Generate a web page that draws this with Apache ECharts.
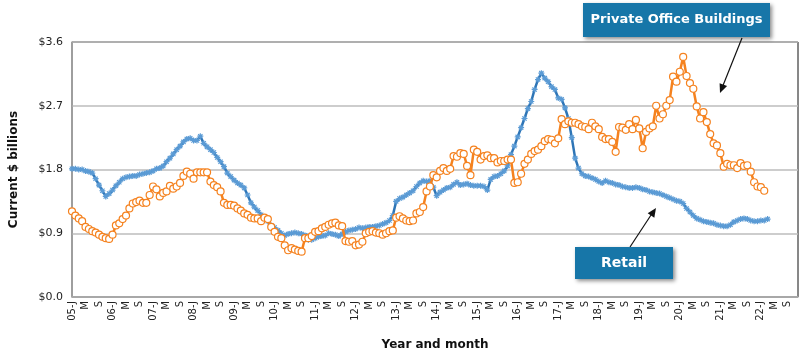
<!DOCTYPE html>
<html><head><meta charset="utf-8">
<script src="https://cdn.jsdelivr.net/npm/echarts@6/dist/echarts.min.js"></script>
<style>html,body{margin:0;padding:0;background:#fff}#c{width:800px;height:356px}</style>
</head><body><div id="c"></div>
<script>
// Month categories Jan 2005 .. Dec 2022
var monthLetters = ['J','F','M','A','M','J','J','A','S','O','N','D'];
var startYear = 2005, endYear = 2022;
var categories = [];
for (var y = startYear; y <= endYear; y++) {
  for (var m = 0; m < 12; m++) {
    categories.push(m === 0 ? String(y).slice(2) + '-J' : monthLetters[m]);
  }
}
var yTicks = [0, 0.9, 1.8, 2.7, 3.6];

// Private Office Buildings ($ billions), monthly from Jan 2005
var officeValues = [
 1.21,1.15,1.11,1.07,0.99,0.96,0.93,0.91,0.88,0.85,0.83,0.82,
 0.88,1.01,1.04,1.10,1.15,1.25,1.32,1.34,1.36,1.33,1.33,1.44,
 1.56,1.52,1.42,1.47,1.49,1.57,1.53,1.56,1.61,1.71,1.77,1.74,
 1.67,1.76,1.76,1.76,1.76,1.63,1.58,1.55,1.49,1.33,1.30,1.30,
 1.29,1.25,1.22,1.18,1.16,1.12,1.11,1.11,1.07,1.12,1.10,0.99,
 0.92,0.85,0.83,0.73,0.66,0.69,0.67,0.65,0.64,0.83,0.83,0.86,
 0.92,0.93,0.97,0.99,1.02,1.04,1.05,1.01,1.00,0.79,0.78,0.79,
 0.73,0.74,0.78,0.90,0.92,0.93,0.91,0.90,0.88,0.90,0.93,0.94,
 1.12,1.14,1.11,1.08,1.07,1.08,1.18,1.20,1.27,1.49,1.56,1.72,
 1.69,1.78,1.82,1.78,1.81,1.99,1.98,2.03,2.02,1.85,1.72,2.08,
 2.05,1.94,1.99,2.00,1.96,1.96,1.90,1.92,1.92,1.94,1.94,1.61,
 1.62,1.74,1.88,1.94,2.02,2.06,2.08,2.13,2.20,2.23,2.22,2.17,
 2.24,2.51,2.44,2.48,2.46,2.46,2.44,2.41,2.40,2.37,2.46,2.41,
 2.37,2.26,2.23,2.23,2.19,2.05,2.40,2.39,2.36,2.44,2.37,2.50,
 2.38,2.10,2.33,2.38,2.41,2.70,2.52,2.58,2.70,2.78,3.11,3.04,
 3.18,3.39,3.12,3.02,2.94,2.69,2.52,2.61,2.47,2.30,2.17,2.14,
 2.03,1.84,1.88,1.86,1.86,1.82,1.89,1.85,1.86,1.77,1.62,1.56,
 1.55,1.50
];

// Retail ($ billions), monthly from Jan 2005
var retailValues = [
 1.81,1.81,1.80,1.80,1.78,1.77,1.75,1.67,1.58,1.50,1.42,1.46,
 1.51,1.57,1.62,1.67,1.69,1.70,1.71,1.71,1.73,1.74,1.75,1.76,
 1.78,1.81,1.82,1.85,1.91,1.96,2.02,2.08,2.13,2.19,2.23,2.24,
 2.21,2.21,2.27,2.17,2.12,2.08,2.04,1.97,1.91,1.84,1.75,1.70,
 1.65,1.61,1.58,1.54,1.44,1.33,1.27,1.22,1.16,1.12,1.07,1.01,
 0.98,0.94,0.90,0.87,0.89,0.90,0.91,0.90,0.89,0.87,0.81,0.81,
 0.83,0.85,0.86,0.87,0.90,0.89,0.88,0.86,0.89,0.92,0.94,0.95,
 0.96,0.98,0.97,0.98,0.99,0.99,1.00,1.01,1.03,1.05,1.08,1.15,
 1.35,1.39,1.41,1.44,1.47,1.50,1.56,1.61,1.64,1.63,1.64,1.55,
 1.43,1.48,1.51,1.54,1.55,1.59,1.62,1.58,1.59,1.60,1.58,1.57,
 1.57,1.57,1.56,1.51,1.66,1.70,1.71,1.74,1.78,1.85,2.01,2.13,
 2.26,2.39,2.52,2.66,2.76,2.93,3.07,3.16,3.09,3.04,2.97,2.93,
 2.81,2.79,2.67,2.52,2.25,1.96,1.82,1.74,1.71,1.70,1.68,1.66,
 1.63,1.61,1.64,1.62,1.61,1.59,1.58,1.56,1.55,1.54,1.54,1.55,
 1.54,1.52,1.51,1.49,1.48,1.47,1.46,1.44,1.42,1.40,1.38,1.36,
 1.35,1.32,1.25,1.20,1.15,1.11,1.09,1.07,1.06,1.05,1.04,1.02,
 1.01,1.00,1.00,1.02,1.06,1.08,1.10,1.11,1.10,1.08,1.07,1.07,
 1.08,1.08,1.10
];

var FONT = '"DejaVu Sans", sans-serif';
var starPath = 'path://M4,0h2v10h-2z M0,4h10v2h-10z M0.7,2.1l1.4,-1.4l7.2,7.2l-1.4,1.4z M7.9,0.7l1.4,1.4l-7.2,7.2l-1.4,-1.4z';
var boxColor = '#1776a8';

var chart = echarts.init(document.getElementById('c'), null, {renderer: 'canvas'});
chart.setOption({
  animation: false,
  backgroundColor: '#fff',
  grid: {left: 68, right: 2, top: 42, bottom: 57, show: true, borderColor: '#111', borderWidth: 1},
  xAxis: {
    type: 'category', data: categories, boundaryGap: false,
    name: 'Year and month', nameLocation: 'middle', nameGap: 42,
    nameTextStyle: {fontFamily: FONT, fontWeight: 'bold', fontSize: 12, color: '#111'},
    axisLine: {lineStyle: {color: '#a6a6a6', width: 1.5}},
    axisTick: {show: false},
    axisLabel: {interval: 3, rotate: 90, fontFamily: FONT, fontSize: 10, color: '#222', margin: 4},
    splitLine: {show: false}
  },
  yAxis: {
    type: 'value', min: 0, max: 3.6, interval: 0.9,
    name: 'Current $ billions', nameLocation: 'middle', nameGap: 52, nameRotate: 90,
    nameTextStyle: {fontFamily: FONT, fontWeight: 'bold', fontSize: 12, color: '#111'},
    axisLine: {show: true, lineStyle: {color: '#a6a6a6', width: 1.5}},
    axisTick: {show: false},
    axisLabel: {fontFamily: FONT, fontSize: 11, color: '#222', margin: 9,
      formatter: function (v) { return '$' + v.toFixed(1); }},
    splitLine: {lineStyle: {color: '#bdbdbd', width: 1.5}}
  },
  series: [
    {
      name: 'Retail', type: 'line', data: retailValues, z: 2,
      showAllSymbol: true, symbol: starPath, symbolSize: 6,
      itemStyle: {color: '#5b9bd5'},
      lineStyle: {color: '#2e75b6', width: 2.5}
    },
    {
      name: 'Private Office Buildings', type: 'line', data: officeValues, z: 3,
      showAllSymbol: true, symbol: 'circle', symbolSize: 7,
      itemStyle: {color: '#fff', borderColor: '#f5821f', borderWidth: 1.2},
      lineStyle: {color: '#f5821f', width: 2.5}
    }
  ],
  graphic: [
    {type: 'line', shape: {x1: 742, y1: 38, x2: 722, y2: 88}, style: {stroke: '#111', lineWidth: 1.2}, z: 10},
    {type: 'polygon', shape: {points: [[720, 93], [727.1, 86.1], [719.6, 83.2]]}, style: {fill: '#111'}, z: 10},
    {type: 'rect', shape: {x: 583, y: 3, width: 187, height: 34}, style: {fill: boxColor, shadowBlur: 4, shadowOffsetX: 2, shadowOffsetY: 2, shadowColor: 'rgba(0,0,0,0.45)'}, z: 11},
    {type: 'text', x: 676.5, y: 20, style: {text: 'Private Office Buildings', fill: '#fff', font: 'bold 13px ' + FONT, align: 'center', verticalAlign: 'middle'}, z: 12},
    {type: 'line', shape: {x1: 630, y1: 247, x2: 653, y2: 212}, style: {stroke: '#111', lineWidth: 1.2}, z: 10},
    {type: 'polygon', shape: {points: [[656, 208], [654.3, 217.7], [647.7, 213.3]]}, style: {fill: '#111'}, z: 10},
    {type: 'rect', shape: {x: 575, y: 247, width: 98, height: 32}, style: {fill: boxColor, shadowBlur: 4, shadowOffsetX: 2, shadowOffsetY: 2, shadowColor: 'rgba(0,0,0,0.45)'}, z: 11},
    {type: 'text', x: 624, y: 263, style: {text: 'Retail', fill: '#fff', font: 'bold 14px ' + FONT, align: 'center', verticalAlign: 'middle'}, z: 12}
  ]
});
</script></body></html>
